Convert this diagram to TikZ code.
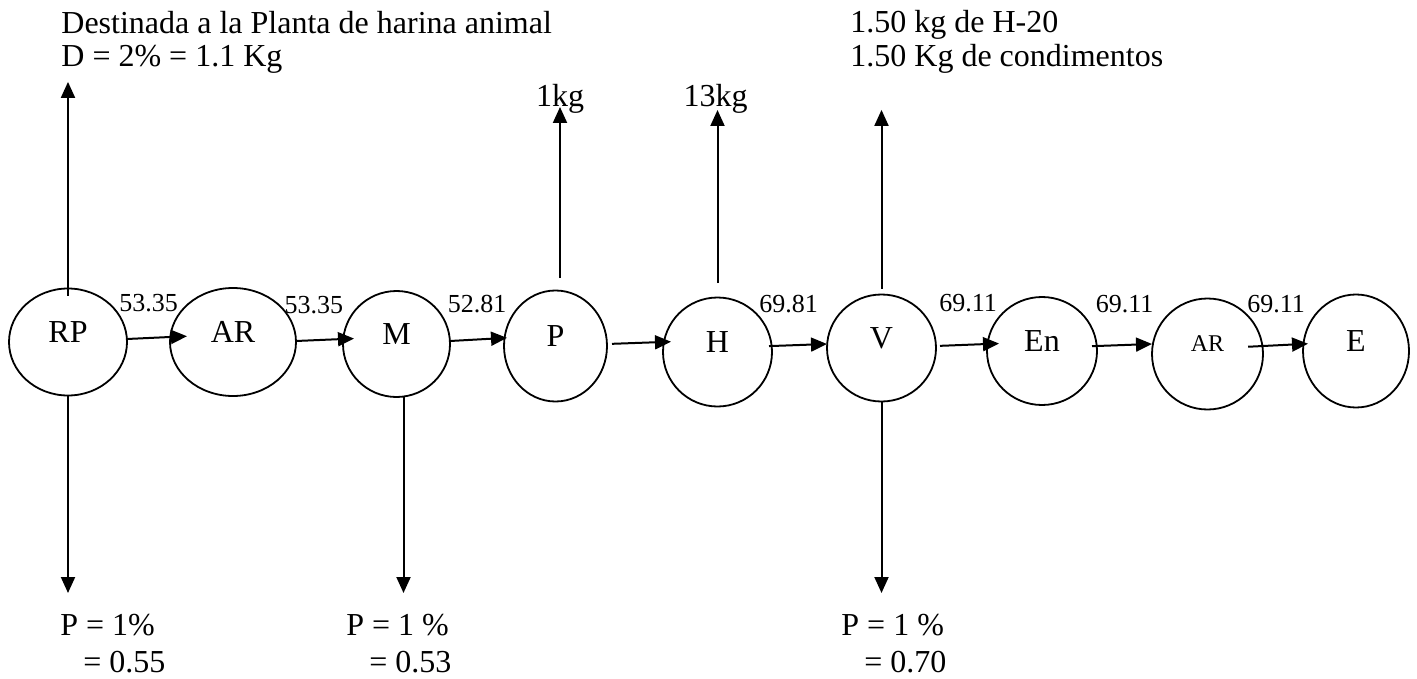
\documentclass[tikz,border=0pt]{standalone}
\usepackage{fontspec}
\setmainfont{Liberation Serif}
\usetikzlibrary{shapes}
\usetikzlibrary{positioning}
\usetikzlibrary{arrows.meta}

\begin{document}
\begin{tikzpicture}[
    x=0.5pt,
    y=-0.5pt,
    font=\fontsize{16}{16.5}\selectfont,
    etapa/.style={
        draw,
        ellipse,
        line width=0.9pt,
        inner sep=0pt,
        outer sep=0pt,
        text depth=10pt
    },
    flecha/.style={
        -{Triangle[length=8pt,width=7pt]},
        line width=1pt
    },
    cantidad/.style={
        font=\fontsize{13}{13}\selectfont,
        anchor=base,
        inner sep=0pt,
        yshift=#1
    },
    cantidad/.default=13.5pt,
    nota/.style={
        align=left,
        inner sep=0pt,
        anchor=north west
    }
]

    \useasboundingbox (0,0) rectangle (1417,679);

    \node[etapa,minimum width=59pt,minimum height=53.5pt] (RP)
    at (68,342)
    {
        RP
    };

    \node[etapa,minimum width=63pt,minimum height=54pt] (AR)
    [right=21.5pt of RP]
    {
        AR
    };

    \node[etapa,minimum width=53.5pt,minimum height=53pt] (M)
    [right=23.5pt of AR,yshift=-1pt]
    {
        M
    };

    \node[etapa,minimum width=51.5pt,minimum height=55.5pt] (P)
    [right=27pt of M,yshift=-1pt]
    {
        P
    };

    \node[etapa,minimum width=54.5pt,minimum height=54.5pt] (H)
    [right=28pt of P,yshift=-3pt]
    {
        H
    };

    \node[etapa,minimum width=54.5pt,minimum height=53.5pt] (V)
    [right=27.5pt of H,yshift=2pt]
    {
        V
    };

    \node[etapa,minimum width=55pt,minimum height=54pt] (En)
    [right=25.5pt of V,yshift=-1.5pt]
    {
        En
    };

    \node[etapa,minimum width=55.5pt,minimum height=55.5pt,
        font=\fontsize{12}{12}\selectfont] (AR2)
    [right=27.5pt of En,yshift=-1.5pt]
    {
        AR
    };

    \node[etapa,minimum width=53pt,minimum height=56.5pt] (E)
    [right=20pt of AR2,yshift=1.5pt]
    {
        E
    };

    \node[nota] (destino)
    at (61,11)
    {
        Destinada a la Planta de harina animal\\
        D = 2\% = 1.1 Kg
    };

    \node[nota,font=\fontsize{16}{17}\selectfont] (aditivos)
    at (850,10)
    {
        1.50 kg de H-20\\
        1.50 Kg de condimentos
    };

    \node[anchor=base,inner sep=0pt] (kg1)
    at (560,107)
    {
        1kg
    };

    \node[anchor=base,inner sep=0pt] (kg13)
    at (715.5,107)
    {
        13kg
    };

    \node[nota,font=\fontsize{16}{18.5}\selectfont] (perdida1)
    at (60,614)
    {
        P = 1\%\\
        \hspace*{11.5pt}= 0.55
    };

    \node[nota,font=\fontsize{16}{18.5}\selectfont] (perdida2)
    at (346,614)
    {
        P = 1 \%\\
        \hspace*{11.5pt}= 0.53
    };

    \node[nota,font=\fontsize{16}{18.5}\selectfont] (perdida3)
    at (841,614)
    {
        P = 1 \%\\
        \hspace*{11.5pt}= 0.70
    };


    \draw[flecha,shorten >=-8.5pt]
    ([yshift=1.5pt]RP.east) -- node[cantidad] {53.35} ([yshift=2.5pt]AR.west);

    \draw[flecha,shorten >=-5.5pt]
    ([yshift=0.5pt]AR.east) -- node[cantidad,pos=0.38] {53.35} ([yshift=2.5pt]M.west);

    \draw[flecha,shorten >=-1.5pt]
    ([yshift=1.5pt]M.east) -- node[cantidad] {52.81} ([yshift=4pt]P.west);

    \draw[flecha,shorten <=2.5pt,shorten >=-4pt]
    ([yshift=1pt]P.east) -- ([yshift=5pt]H.west);

    \draw[flecha,shorten <=-1.5pt]
    ([yshift=3pt]H.east) -- node[cantidad=16.5pt,pos=0.3] {69.81} ([yshift=2pt]V.west);

    \draw[flecha,shorten <=2pt,shorten >=-6pt]
    ([yshift=1pt]V.east) -- node[cantidad=16.5pt,pos=0.63] {69.11} ([yshift=3.5pt]En.west);

    \draw[flecha,shorten <=-2.5pt]
    ([yshift=2.5pt]En.east) -- node[cantidad=16.5pt] {69.11} ([yshift=5pt]AR2.west);

    \draw[flecha,shorten <=-7.5pt,shorten >=-2.5pt]
    ([yshift=4pt]AR2.east) -- node[cantidad=16.5pt,pos=0.33] {69.11} ([yshift=3.5pt]E.west);

    \draw[flecha,shorten <=-3.5pt,shorten >=4pt]
    (RP.north) -- (RP.north |- destino.south);

    \draw[flecha,shorten <=6.25pt]
    (kg1.base |- P.north) -- (kg1.base);

    \draw[flecha,shorten <=7.25pt,shorten >=1.5pt]
    (H.north) -- (H.north |- kg13.base);

    \draw[flecha,shorten <=3pt,shorten >=18pt]
    (V.north) -- (V.north |- aditivos.south);

    \draw[flecha,shorten >=10.5pt]
    (RP.south) -- (RP.south |- perdida1.north);

    \draw[flecha,shorten >=10.5pt]
    ([xshift=3.5pt]M.south) -- ([xshift=3.5pt]M.south |- perdida2.north);

    \draw[flecha,shorten >=10.5pt]
    (V.south) -- (V.south |- perdida3.north);

\end{tikzpicture}
\end{document}
